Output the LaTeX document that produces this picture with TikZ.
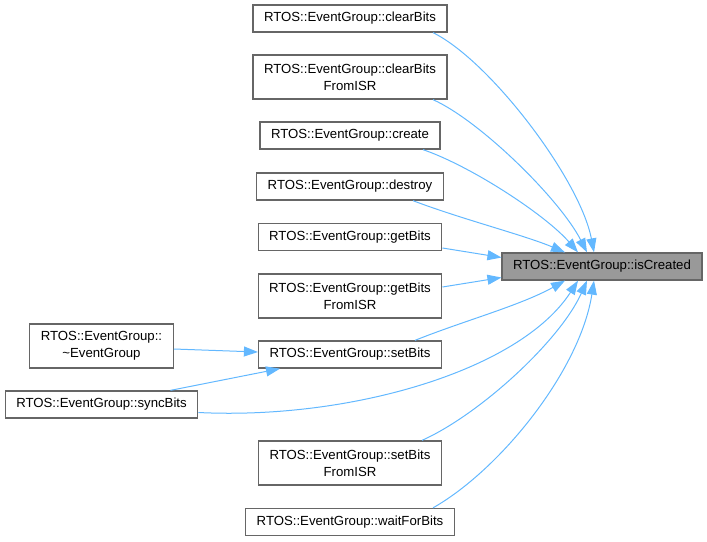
\documentclass[tikz,border=0pt]{standalone}
\usepackage{fontspec}
\setmainfont{Liberation Sans}
\usepackage{tikz}
\usetikzlibrary{calc,arrows.meta}
\definecolor{boxgrey}{HTML}{666666}
\definecolor{curgrey}{HTML}{999999}
\definecolor{edgeblue}{HTML}{63B8FF}

\begin{document}
\begin{tikzpicture}[
  x=1pt, y=-1pt,
  fnbox/.style={draw=boxgrey, fill=white, line width=1.3pt, inner xsep=11pt, inner ysep=0pt,
    minimum height=27pt, align=center, font=\fontsize{13.2}{17}\selectfont},
  fnboxtwo/.style={fnbox, minimum height=44pt},
  current/.style={fnbox, fill=curgrey},
  callarrow/.style={draw=edgeblue, line width=1pt, -{Triangle[length=14pt,width=10pt]}},
]
\useasboundingbox (0,0) rectangle (707,541);

% callers, one line
\foreach \nm/\yy/\txt in {%
  clearbits/18.5/{RTOS::EventGroup::clearBits},
  create/135.5/{RTOS::EventGroup::create},
  destroy/186.5/{RTOS::EventGroup::destroy},
  getbits/237/{RTOS::EventGroup::getBits},
  setbits/354.5/{RTOS::EventGroup::setBits},
  waitforbits/522/{RTOS::EventGroup::waitForBits}%
} {
  \node[fnbox] (\nm) at (350,\yy) {\txt};
}
% callers, two lines
\foreach \nm/\yy/\txt in {%
  clearbitsisr/77/{RTOS::EventGroup::clearBits\\FromISR},
  getbitsisr/296/{RTOS::EventGroup::getBits\\FromISR},
  setbitsisr/463/{RTOS::EventGroup::setBits\\FromISR}%
} {
  \node[fnboxtwo] (\nm) at (350,\yy) {\txt};
}
\node[fnboxtwo] (dtor) at (101.5,346) {RTOS::EventGroup::\\\textasciitilde EventGroup};
\node[fnbox] (syncbits) at (101.5,404.5) {RTOS::EventGroup::syncBits};
\node[current] (iscreated) at (602,266.5) {RTOS::EventGroup::isCreated};

% calls into isCreated
\draw[callarrow] ($(clearbits.south)+(83,0)$) .. controls +(57,28) and +(-14,-73) .. ($(iscreated.north)+(-8,0)$);
\draw[callarrow] ($(clearbitsisr.south)+(83,0)$) .. controls +(47,21) and +(-27,-53) .. ($(iscreated.north)+(-15,0)$);
\draw[callarrow] ($(create.south)+(73,0)$) .. controls +(47,16) and +(-33,-38) .. ($(iscreated.north)+(-24,0)$);
\draw[callarrow] ($(destroy.south)+(63,0)$) .. controls +(47,18) and +(-40,-17) .. ($(iscreated.north)+(-37,0)$);
\draw[callarrow] ($(getbits.east)+(0,11)$) -- ($(iscreated.west)+(0,-9)$);
\draw[callarrow] ($(getbitsisr.east)+(0,-9)$) -- ($(iscreated.west)+(0,11)$);
\draw[callarrow] ($(setbits.north)+(65,0)$) .. controls +(50,-20) and +(-45,25) .. ($(iscreated.south)+(-37,0)$);
\draw[callarrow] ($(syncbits.east)+(0,8)$) .. controls +(151,7.5) and +(-58,90) .. ($(iscreated.south)+(-24,0)$);
\draw[callarrow] ($(setbitsisr.north)+(72,0)$) .. controls +(58,-26) and +(-27,60) .. ($(iscreated.south)+(-15,0)$);
\draw[callarrow] ($(waitforbits.north)+(83,0)$) .. controls +(67,-38) and +(-14,90) .. ($(iscreated.south)+(-8,0)$);

% calls into setBits
\draw[callarrow] ($(dtor.east)+(0,3)$) -- ($(setbits.west)+(0,-2.5)$);
\draw[callarrow] ($(syncbits.north)+(69,0)$) -- ($(setbits.south)+(-70,0)$);
\end{tikzpicture}
\end{document}
